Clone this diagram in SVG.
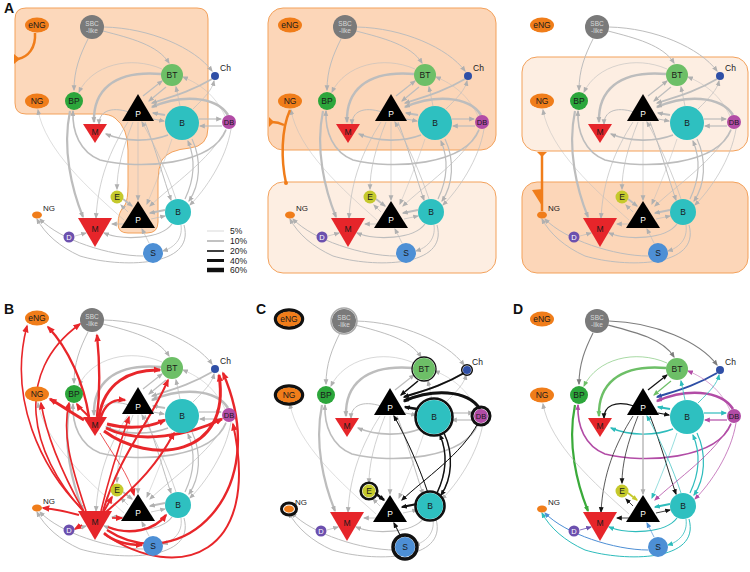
<svg xmlns="http://www.w3.org/2000/svg" xmlns:xlink="http://www.w3.org/1999/xlink" width="750" height="572" viewBox="0 0 750 572">
<style>
text{font-family:"Liberation Sans",Arial,sans-serif;font-size:8.5px;text-anchor:middle;fill:#1a1a1a}
.sm{font-size:6.5px;fill:#d8d8d8}
.wt{fill:#fff}
.lab{font-size:14px;font-weight:bold;text-anchor:start;fill:#111}
.lg{font-size:8.5px;text-anchor:start}
.or{fill:#f07d1a}
.ed{fill:none}
.g{stroke:#bdbdbd;marker-end:url(#ag)}
.r{stroke:#e8262a;marker-end:url(#ar)}
.k{stroke:#111;marker-end:url(#ak)}
.cS{stroke:#7d7d7d;marker-end:url(#adg)}
.cBT{stroke:#6dbf67;marker-end:url(#abt)}
.cK{stroke:#111;marker-end:url(#ak)}
.cCh{stroke:#2f4fa6;marker-end:url(#ach)}
.cDB{stroke:#b24ca6;marker-end:url(#am)}
.cB{stroke:#2ebcbc;marker-end:url(#at)}
.cBP{stroke:#3aaa3a;marker-end:url(#abp)}
.cE{stroke:#c5c92c;marker-end:url(#ay)}
.cSn{stroke:#4d8fd5;marker-end:url(#as)}
.cD{stroke:#6c50ae;marker-end:url(#ad)}
.cG{stroke:#b5b5b5;marker-end:url(#ag)}
.ring{fill:none;stroke:#111}
.reg{stroke:#f3a15b;stroke-width:1}
.dark{fill:#fcd6b8}
.light{fill:#fdeee2}
.inh{fill:none;stroke:#f07d1a;stroke-width:2.5}
</style>
<defs>
<marker id="ag" viewBox="0 0 10 10" refX="8" refY="5" markerWidth="6" markerHeight="6" markerUnits="userSpaceOnUse" orient="auto"><path d="M0,1 L10,5 L0,9 z" fill="#b0b0b0"/></marker>
<marker id="ar" viewBox="0 0 10 10" refX="8" refY="5" markerWidth="8" markerHeight="8" markerUnits="userSpaceOnUse" orient="auto"><path d="M0,1 L10,5 L0,9 z" fill="#e8262a"/></marker>
<marker id="ak" viewBox="0 0 10 10" refX="8" refY="5" markerWidth="6" markerHeight="6" markerUnits="userSpaceOnUse" orient="auto"><path d="M0,1 L10,5 L0,9 z" fill="#111"/></marker>
<marker id="adg" viewBox="0 0 10 10" refX="8" refY="5" markerWidth="6" markerHeight="6" markerUnits="userSpaceOnUse" orient="auto"><path d="M0,1 L10,5 L0,9 z" fill="#7d7d7d"/></marker>
<marker id="abt" viewBox="0 0 10 10" refX="8" refY="5" markerWidth="6" markerHeight="6" markerUnits="userSpaceOnUse" orient="auto"><path d="M0,1 L10,5 L0,9 z" fill="#6dbf67"/></marker>
<marker id="ach" viewBox="0 0 10 10" refX="8" refY="5" markerWidth="6" markerHeight="6" markerUnits="userSpaceOnUse" orient="auto"><path d="M0,1 L10,5 L0,9 z" fill="#2f4fa6"/></marker>
<marker id="am" viewBox="0 0 10 10" refX="8" refY="5" markerWidth="6" markerHeight="6" markerUnits="userSpaceOnUse" orient="auto"><path d="M0,1 L10,5 L0,9 z" fill="#b24ca6"/></marker>
<marker id="at" viewBox="0 0 10 10" refX="8" refY="5" markerWidth="6" markerHeight="6" markerUnits="userSpaceOnUse" orient="auto"><path d="M0,1 L10,5 L0,9 z" fill="#2ebcbc"/></marker>
<marker id="abp" viewBox="0 0 10 10" refX="8" refY="5" markerWidth="6" markerHeight="6" markerUnits="userSpaceOnUse" orient="auto"><path d="M0,1 L10,5 L0,9 z" fill="#3aaa3a"/></marker>
<marker id="ay" viewBox="0 0 10 10" refX="8" refY="5" markerWidth="6" markerHeight="6" markerUnits="userSpaceOnUse" orient="auto"><path d="M0,1 L10,5 L0,9 z" fill="#c5c92c"/></marker>
<marker id="as" viewBox="0 0 10 10" refX="8" refY="5" markerWidth="6" markerHeight="6" markerUnits="userSpaceOnUse" orient="auto"><path d="M0,1 L10,5 L0,9 z" fill="#4d8fd5"/></marker>
<marker id="ad" viewBox="0 0 10 10" refX="8" refY="5" markerWidth="6" markerHeight="6" markerUnits="userSpaceOnUse" orient="auto"><path d="M0,1 L10,5 L0,9 z" fill="#6c50ae"/></marker>

<g id="net" class="ed">
<path class="g" stroke-width="1" d="M88 39 C80 55 74 70 74 90"/>
<path class="g" stroke-width="1" d="M103 31 C130 38 158 45 169 63"/>
<path class="g" stroke-width="1" d="M104 27 C150 28 195 48 212 71"/>
<path class="g" stroke-width="0.6" d="M162 69 C130 55 92 65 79 92"/>
<path class="g" stroke-width="2.4" d="M161 74 C112 70 93 92 94 122"/>
<path class="g" stroke-width="1.2" d="M143 96 L162 81"/>
<path class="g" stroke-width="1.2" d="M166 87 L149 101"/>
<path class="g" stroke-width="1.8" d="M212 79 C190 92 170 97 152 103"/>
<path class="g" stroke-width="2.6" d="M228 115 C215 95 180 95 152 107"/>
<path class="g" stroke-width="2" d="M165 115 L153 113"/>
<path class="g" stroke-width="1.2" d="M153 119 L164 121"/>
<path class="g" stroke-width="1.2" d="M199 119 L221 119"/>
<path class="g" stroke-width="1.2" d="M222 126 L200 126"/>
<path class="g" stroke-width="1.6" d="M168 135 C150 142 125 142 106 134"/>
<path class="g" stroke-width="1" d="M129 112 C110 106 99 112 99 124"/>
<path class="g" stroke-width="1.6" d="M226 130 C212 165 140 170 100 160 C80 152 72 132 73 111"/>
<path class="g" stroke-width="2.2" d="M70 111 C62 150 72 190 83 217"/>
<path class="g" stroke-width="0.7" d="M133 122 C122 150 117 170 117 189"/>
<path class="g" stroke-width="0.7" d="M128 122 C110 150 98 180 96 218"/>
<path class="g" stroke-width="0.6" d="M138 122 L138 200"/>
<path class="g" stroke-width="1" d="M145 122 C156 150 164 180 171 200"/>
<path class="g" stroke-width="0.7" d="M176 199 C168 175 155 145 142 122"/>
<path class="g" stroke-width="1.2" d="M192 139 C202 160 200 185 189 201"/>
<path class="g" stroke-width="1.2" d="M185 199 C194 180 196 160 188 141"/>
<path class="g" stroke-width="0.7" d="M226 129 C210 160 172 185 150 206"/>
<path class="g" stroke-width="0.7" d="M231 129 C226 160 205 190 190 205"/>
<path class="g" stroke-width="1.8" d="M123 199 L132 206"/>
<path class="g" stroke-width="0.7" d="M128 212 L121 205"/>
<path class="g" stroke-width="1.8" d="M165 210 L150 213"/>
<path class="g" stroke-width="0.7" d="M151 219 L165 216"/>
<path class="g" stroke-width="0.8" d="M124 224 L112 224"/>
<path class="g" stroke-width="1.2" d="M172 224 C160 240 122 240 104 233"/>
<path class="g" stroke-width="0.7" d="M149 243 L142 229"/>
<path class="g" stroke-width="0.8" d="M181 225 C183 240 173 248 163 251"/>
<path class="g" stroke-width="0.7" d="M75 236 L86 233"/>
<path class="g" stroke-width="1" d="M143 256 C110 256 60 240 40 219"/>
<path class="g" stroke-width="1" d="M184 225 C196 268 120 268 80 256 C60 247 45 234 37 219"/>
<path class="g" stroke-width="0.5" d="M124 220 C90 190 45 150 38 110"/>
<path class="g" stroke-width="0.7" d="M193 109 C205 97 212 90 214 81"/>
<path class="g" stroke-width="0.5" d="M225 116 C215 95 200 84 183 77"/>
<path class="g" stroke-width="0.7" d="M180 106 L176 87"/>
<path class="g" stroke-width="0.5" d="M172 139 C165 160 155 185 147 204"/>
</g>

<g id="n-eNG"><ellipse cx="37" cy="25" rx="12" ry="7.5" class="or"/><text x="37" y="28">eNG</text></g>
<g id="n-SBC"><circle cx="92" cy="27" r="12" fill="#7a7a7a"/><text x="92" y="26" class="sm">SBC</text><text x="92" y="33" class="sm">-like</text></g>
<g id="n-BT"><circle cx="172" cy="75" r="11" fill="#6dbf67"/><text x="172" y="78">BT</text></g>
<g id="n-Ch"><circle cx="215" cy="76" r="4" fill="#2f4fa6"/><text x="220" y="71" style="text-anchor:start">Ch</text></g>
<g id="n-NG"><ellipse cx="37" cy="101" rx="12" ry="7.5" class="or"/><text x="37" y="104">NG</text></g>
<g id="n-BP"><circle cx="74" cy="101" r="9" fill="#2ca63b"/><text x="74" y="104">BP</text></g>
<g id="n-Pt"><polygon points="138,94 154,121 122,121" fill="#000"/><text x="138" y="117" class="wt">P</text></g>
<g id="n-Bt"><circle cx="182" cy="123" r="17" fill="#2ec0c0"/><text x="182" y="126">B</text></g>
<g id="n-DB"><circle cx="229" cy="122" r="7" fill="#b24ca6"/><text x="229" y="125" style="font-size:7.5px">DB</text></g>
<g id="n-Mt"><polygon points="83,124 107,124 95,143" fill="#e6252a"/><text x="95" y="135">M</text></g>
<g id="n-E"><circle cx="117" cy="197" r="6.5" fill="#c5c92c"/><text x="117" y="200">E</text></g>
<g id="n-Pb"><polygon points="138,201 155,228 121,228" fill="#000"/><text x="138" y="223" class="wt">P</text></g>
<g id="n-Bb"><circle cx="178" cy="212" r="13" fill="#2ec0c0"/><text x="178" y="215">B</text></g>
<g id="n-NGs"><ellipse cx="37" cy="215" rx="5" ry="3.5" class="or"/><text x="43" y="211" style="text-anchor:start;font-size:8px">NG</text></g>
<g id="n-Mb"><polygon points="78,218 112,218 95,247" fill="#e6252a"/><text x="95" y="232">M</text></g>
<g id="n-D"><circle cx="69" cy="237" r="5.5" fill="#6c50ae"/><text x="69" y="240" class="wt" style="font-size:7.5px">D</text></g>
<g id="n-S"><circle cx="153" cy="253" r="10" fill="#4d8fd5"/><text x="153" y="256">S</text></g>
</defs>

<rect width="750" height="572" fill="#fff"/>

<!-- Panel A left -->
<g id="panelA1">
<text x="4" y="13" class="lab">A</text>
<path class="reg" fill="#fcd8bb" d="M26 8 H197 Q208 8 208 19 V128 Q208 146 190 148 Q168 150 162 160 Q158 168 158 180 V222 Q158 233 147 233 H128 Q118 233 118 224 Q118 212 125 205 Q128 200 128 185 V150 Q128 128 115 118 Q110 114 100 114 H26 Q15 114 15 103 V19 Q15 8 26 8 Z"/>
<g id="a1-connectors"><use href="#net"/><path class="inh" d="M35 33 C36 48 28 57 18 59"/><polygon points="14,54 14,64 20,59" fill="#f07d1a"/></g>
<g id="a1-eNG"><use href="#n-eNG"/></g><g id="a1-SBC"><use href="#n-SBC"/></g><g id="a1-BT"><use href="#n-BT"/></g><g id="a1-Ch"><use href="#n-Ch"/></g><g id="a1-NG"><use href="#n-NG"/></g><g id="a1-BP"><use href="#n-BP"/></g><g id="a1-Pt"><use href="#n-Pt"/></g><g id="a1-Bt"><use href="#n-Bt"/></g><g id="a1-DB"><use href="#n-DB"/></g><g id="a1-Mt"><use href="#n-Mt"/></g><g id="a1-E"><use href="#n-E"/></g><g id="a1-Pb"><use href="#n-Pb"/></g><g id="a1-Bb"><use href="#n-Bb"/></g><g id="a1-NGs"><use href="#n-NGs"/></g><g id="a1-Mb"><use href="#n-Mb"/></g><g id="a1-D"><use href="#n-D"/></g><g id="a1-S"><use href="#n-S"/></g>
<g id="legend">
<line x1="207" y1="231" x2="224" y2="231" stroke="#cfcfcf" stroke-width="0.8"/>
<line x1="207" y1="241" x2="224" y2="241" stroke="#9a9a9a" stroke-width="1.2"/>
<line x1="207" y1="251" x2="224" y2="251" stroke="#111" stroke-width="1.6"/>
<line x1="207" y1="260.5" x2="224" y2="260.5" stroke="#111" stroke-width="3"/>
<line x1="207" y1="270" x2="224" y2="270" stroke="#111" stroke-width="4.5"/>
<text x="230" y="234" class="lg">5%</text>
<text x="230" y="244" class="lg">10%</text>
<text x="230" y="254" class="lg">20%</text>
<text x="230" y="263.5" class="lg">40%</text>
<text x="230" y="273" class="lg">60%</text>
</g>
</g>

<!-- Panel A middle -->
<g id="panelA2" transform="translate(253,0)">
<rect class="reg dark" x="15" y="8" width="228" height="142" rx="15"/>
<rect class="reg light" x="15" y="182" width="228" height="91" rx="15"/>
<g id="a2-connectors"><use href="#net"/><path class="inh" d="M33 183 C28 160 28 130 37 110"/><path class="inh" d="M31 125 Q25 122 19 122"/><polygon points="16,117 16,127 21,122" fill="#f07d1a"/><circle cx="33" cy="183" r="2" fill="#f07d1a"/></g>
<g id="a2-eNG"><use href="#n-eNG"/></g><g id="a2-SBC"><use href="#n-SBC"/></g><g id="a2-BT"><use href="#n-BT"/></g><g id="a2-Ch"><use href="#n-Ch"/></g><g id="a2-NG"><use href="#n-NG"/></g><g id="a2-BP"><use href="#n-BP"/></g><g id="a2-Pt"><use href="#n-Pt"/></g><g id="a2-Bt"><use href="#n-Bt"/></g><g id="a2-DB"><use href="#n-DB"/></g><g id="a2-Mt"><use href="#n-Mt"/></g><g id="a2-E"><use href="#n-E"/></g><g id="a2-Pb"><use href="#n-Pb"/></g><g id="a2-Bb"><use href="#n-Bb"/></g><g id="a2-NGs"><use href="#n-NGs"/></g><g id="a2-Mb"><use href="#n-Mb"/></g><g id="a2-D"><use href="#n-D"/></g><g id="a2-S"><use href="#n-S"/></g>
</g>

<!-- Panel A right -->
<g id="panelA3" transform="translate(505,0)">
<rect class="reg light" x="17" y="57" width="226" height="94" rx="15"/>
<rect class="reg dark" x="17" y="182" width="226" height="91" rx="15"/>
<g id="a3-connectors"><use href="#net"/><path class="inh" d="M37 211 V154"/><polygon points="32,152 42,152 37,157" fill="#f07d1a"/><polygon points="27,190 38,189 37,206" fill="#f07d1a"/></g>
<g id="a3-eNG"><use href="#n-eNG"/></g><g id="a3-SBC"><use href="#n-SBC"/></g><g id="a3-BT"><use href="#n-BT"/></g><g id="a3-Ch"><use href="#n-Ch"/></g><g id="a3-NG"><use href="#n-NG"/></g><g id="a3-BP"><use href="#n-BP"/></g><g id="a3-Pt"><use href="#n-Pt"/></g><g id="a3-Bt"><use href="#n-Bt"/></g><g id="a3-DB"><use href="#n-DB"/></g><g id="a3-Mt"><use href="#n-Mt"/></g><g id="a3-E"><use href="#n-E"/></g><g id="a3-Pb"><use href="#n-Pb"/></g><g id="a3-Bb"><use href="#n-Bb"/></g><g id="a3-NGs"><use href="#n-NGs"/></g><g id="a3-Mb"><use href="#n-Mb"/></g><g id="a3-D"><use href="#n-D"/></g><g id="a3-S"><use href="#n-S"/></g>
</g>

<!-- Panel B -->
<g id="panelB" transform="translate(0,293)">
<text x="4" y="21" class="lab">B</text>
<g id="b-connectors" class="ed"><use href="#net"/>
<path class="r" stroke-width="2.4" d="M89 124 C84 90 68 55 48 34"/>
<path class="r" stroke-width="2.4" d="M97 124 C101 92 99 62 97 42"/>
<path class="r" stroke-width="3" d="M84 127 C72 120 62 113 50 106"/>
<path class="r" stroke-width="2" d="M89 124 C85 119 80 116 77 111"/>
<path class="r" stroke-width="3" d="M99 124 C104 90 130 76 160 77"/>
<path class="r" stroke-width="2.4" d="M101 124 C105 111 114 106 125 107"/>
<path class="r" stroke-width="3" d="M107 131 C130 137 150 134 165 127"/>
<path class="r" stroke-width="3" d="M106 135 C140 152 190 142 222 126"/>
<path class="r" stroke-width="3" d="M104 138 C150 172 232 165 219 82"/>
<path class="r" stroke-width="0.8" d="M100 140 C115 165 128 180 134 202"/>
<path class="r" stroke-width="1.6" d="M84 218 C40 175 8 105 27 33"/>
<path class="r" stroke-width="1.6" d="M83 218 C30 160 12 80 80 31"/>
<path class="r" stroke-width="1.6" d="M84 219 C62 180 46 140 41 110"/>
<path class="r" stroke-width="1.6" d="M86 218 C70 170 62 140 69 110"/>
<path class="r" stroke-width="1.6" d="M101 218 C110 180 120 150 129 124"/>
<path class="r" stroke-width="2" d="M103 218 C120 160 150 130 168 87"/>
<path class="r" stroke-width="2" d="M106 219 C140 190 158 170 174 140"/>
<path class="r" stroke-width="2" d="M104 241 C180 292 262 262 233 131"/>
<path class="r" stroke-width="2.4" d="M107 237 C180 285 275 200 223 80"/>
<path class="r" stroke-width="2" d="M104 218 L112 204"/>
<path class="r" stroke-width="1.6" d="M112 225 L122 225"/>
<path class="r" stroke-width="2.4" d="M108 234 C130 243 155 237 166 222"/>
<path class="r" stroke-width="2.4" d="M104 240 C115 250 130 252 142 252"/>
<path class="r" stroke-width="1.6" d="M82 232 L75 236"/>
<path class="r" stroke-width="2" d="M79 222 C65 218 55 216 43 215"/>
</g>
<g id="b-eNG"><use href="#n-eNG"/></g><g id="b-SBC"><use href="#n-SBC"/></g><g id="b-BT"><use href="#n-BT"/></g><g id="b-Ch"><use href="#n-Ch"/></g><g id="b-NG"><use href="#n-NG"/></g><g id="b-BP"><use href="#n-BP"/></g><g id="b-Pt"><use href="#n-Pt"/></g><g id="b-Bt"><use href="#n-Bt"/></g><g id="b-DB"><use href="#n-DB"/></g><g id="b-Mt"><use href="#n-Mt"/></g><g id="b-E"><use href="#n-E"/></g><g id="b-Pb"><use href="#n-Pb"/></g><g id="b-Bb"><use href="#n-Bb"/></g><g id="b-NGs"><use href="#n-NGs"/></g><g id="b-Mb"><use href="#n-Mb"/></g><g id="b-D"><use href="#n-D"/></g><g id="b-S"><use href="#n-S"/></g>
</g>

<!-- Panel C -->
<g id="panelC" transform="translate(252,294)">
<text x="4" y="20" class="lab">C</text>
<g id="c-connectors" class="ed"><use href="#net"/>
<path class="k" stroke-width="1.4" d="M166 87 L149 101"/>
<path class="k" stroke-width="2" d="M212 79 C190 92 170 97 152 103"/>
<path class="k" stroke-width="3" d="M228 115 C215 95 180 95 152 107"/>
<path class="k" stroke-width="2.6" d="M165 115 L153 113"/>
<path class="k" stroke-width="2.4" d="M123 199 L132 206"/>
<path class="k" stroke-width="2.2" d="M165 210 L150 213"/>
<path class="k" stroke-width="1" d="M149 243 L142 229"/>
<path class="k" stroke-width="1" d="M176 199 C168 175 155 145 142 122"/>
<path class="k" stroke-width="1" d="M226 129 C210 160 172 185 150 206"/>
<path class="k" stroke-width="1.4" d="M192 139 C202 160 200 185 189 201"/>
<path class="k" stroke-width="1.4" d="M185 199 C194 180 196 160 188 141"/>
</g>
<g id="c-eNG"><ellipse cx="37" cy="25" rx="13.5" ry="9" class="ring" stroke-width="3.5"/><use href="#n-eNG"/></g>
<g id="c-SBC"><circle cx="92" cy="27" r="13" fill="none" stroke="#aaa" stroke-width="1.5"/><use href="#n-SBC"/></g>
<g id="c-BT"><circle cx="172" cy="75" r="12" class="ring" stroke-width="1.3"/><use href="#n-BT"/></g>
<g id="c-Ch"><circle cx="215" cy="76" r="5.3" class="ring" stroke-width="1.5"/><use href="#n-Ch"/></g>
<g id="c-NG"><ellipse cx="37" cy="101" rx="13.5" ry="9" class="ring" stroke-width="3.5"/><use href="#n-NG"/></g>
<g id="c-BP"><use href="#n-BP"/></g>
<g id="c-Pt"><use href="#n-Pt"/></g>
<g id="c-Bt"><circle cx="182" cy="123" r="18.5" class="ring" stroke-width="2.6"/><use href="#n-Bt"/></g>
<g id="c-DB"><circle cx="229" cy="122" r="9" class="ring" stroke-width="3"/><use href="#n-DB"/></g>
<g id="c-Mt"><use href="#n-Mt"/></g>
<g id="c-E"><circle cx="117" cy="197" r="8.3" class="ring" stroke-width="2.6"/><use href="#n-E"/></g>
<g id="c-Pb"><use href="#n-Pb"/></g>
<g id="c-Bb"><circle cx="178" cy="212" r="14.5" class="ring" stroke-width="2.6"/><use href="#n-Bb"/></g>
<g id="c-NGs"><ellipse cx="37" cy="215" rx="7.5" ry="6" class="ring" stroke-width="3"/><use href="#n-NGs"/></g>
<g id="c-Mb"><use href="#n-Mb"/></g>
<g id="c-D"><use href="#n-D"/></g>
<g id="c-S"><circle cx="153" cy="253" r="12" class="ring" stroke-width="3.5"/><use href="#n-S"/></g>
</g>

<!-- Panel D -->
<g id="panelD" transform="translate(505,294)">
<text x="8" y="20" class="lab">D</text>
<g id="d-connectors" class="ed">
<path class="cS" stroke-width="1.1" d="M88 39 C80 55 74 70 74 90"/>
<path class="cS" stroke-width="1.1" d="M103 31 C130 38 158 45 169 63"/>
<path class="cS" stroke-width="1.1" d="M104 27 C150 28 195 48 212 71"/>
<path class="cBT" stroke-width="0.6" d="M162 69 C130 55 92 65 79 92"/>
<path class="cBT" stroke-width="2.4" d="M161 74 C112 70 93 92 94 122"/>
<path class="cK" stroke-width="1.2" d="M143 96 L162 81"/>
<path class="cBT" stroke-width="1.2" d="M166 87 L149 101"/>
<path class="cCh" stroke-width="2" d="M212 79 C190 92 170 97 152 103"/>
<path class="cDB" stroke-width="2.6" d="M228 115 C215 95 180 95 152 107"/>
<path class="cB" stroke-width="2" d="M165 115 L153 113"/>
<path class="cK" stroke-width="1.2" d="M153 119 L164 121"/>
<path class="cB" stroke-width="1.2" d="M199 119 L221 119"/>
<path class="cDB" stroke-width="1.2" d="M222 126 L200 126"/>
<path class="cB" stroke-width="1.4" d="M168 135 C150 142 125 142 106 134"/>
<path class="cK" stroke-width="1.2" d="M129 112 C110 106 99 112 99 124"/>
<path class="cDB" stroke-width="1.6" d="M226 130 C212 165 140 170 100 160 C80 152 72 132 73 111"/>
<path class="cBP" stroke-width="2.2" d="M70 111 C62 150 72 190 83 217"/>
<path class="cK" stroke-width="0.7" d="M133 122 C122 150 117 170 117 189"/>
<path class="cK" stroke-width="0.7" d="M128 122 C110 150 98 180 96 218"/>
<path class="cG" stroke-width="1.4" d="M138 122 L138 200"/>
<path class="cK" stroke-width="0.9" d="M145 122 C156 150 164 180 171 200"/>
<path class="cB" stroke-width="0.7" d="M176 199 C168 175 155 145 142 122"/>
<path class="cB" stroke-width="1.2" d="M192 139 C202 160 200 185 189 201"/>
<path class="cB" stroke-width="1.2" d="M185 199 C194 180 196 160 188 141"/>
<path class="cDB" stroke-width="0.8" d="M226 129 C210 160 172 185 150 206"/>
<path class="cDB" stroke-width="0.7" d="M231 129 C226 160 205 190 190 205"/>
<path class="cE" stroke-width="1.8" d="M123 199 L132 206"/>
<path class="cK" stroke-width="0.8" d="M128 212 L121 205"/>
<path class="cB" stroke-width="1.8" d="M165 210 L150 213"/>
<path class="cK" stroke-width="0.8" d="M151 219 L165 216"/>
<path class="cK" stroke-width="0.8" d="M124 224 L112 224"/>
<path class="cB" stroke-width="1.2" d="M172 224 C160 240 122 240 104 233"/>
<path class="cSn" stroke-width="0.7" d="M149 243 L142 229"/>
<path class="cB" stroke-width="0.8" d="M181 225 C183 240 173 248 163 251"/>
<path class="cD" stroke-width="0.8" d="M75 236 L86 233"/>
<path class="cSn" stroke-width="1" d="M143 256 C110 256 60 240 40 219"/>
<path class="cB" stroke-width="1" d="M184 225 C196 268 120 268 80 256 C60 247 45 234 37 219"/>
<path class="cG" stroke-width="0.6" d="M124 220 C90 190 45 150 38 110"/>
<path class="cB" stroke-width="0.8" d="M193 109 C205 97 212 90 214 81"/>
<path class="cDB" stroke-width="0.5" d="M225 116 C215 95 200 84 183 77"/>
<path class="cB" stroke-width="0.8" d="M180 106 L176 87"/>
<path class="cB" stroke-width="0.5" d="M172 139 C165 160 155 185 147 204"/>
</g>
<g id="d-eNG"><use href="#n-eNG"/></g><g id="d-SBC"><use href="#n-SBC"/></g><g id="d-BT"><use href="#n-BT"/></g><g id="d-Ch"><use href="#n-Ch"/></g><g id="d-NG"><use href="#n-NG"/></g><g id="d-BP"><use href="#n-BP"/></g><g id="d-Pt"><use href="#n-Pt"/></g><g id="d-Bt"><use href="#n-Bt"/></g><g id="d-DB"><use href="#n-DB"/></g><g id="d-Mt"><use href="#n-Mt"/></g><g id="d-E"><use href="#n-E"/></g><g id="d-Pb"><use href="#n-Pb"/></g><g id="d-Bb"><use href="#n-Bb"/></g><g id="d-NGs"><use href="#n-NGs"/></g><g id="d-Mb"><use href="#n-Mb"/></g><g id="d-D"><use href="#n-D"/></g><g id="d-S"><use href="#n-S"/></g>
</g>
</svg>
